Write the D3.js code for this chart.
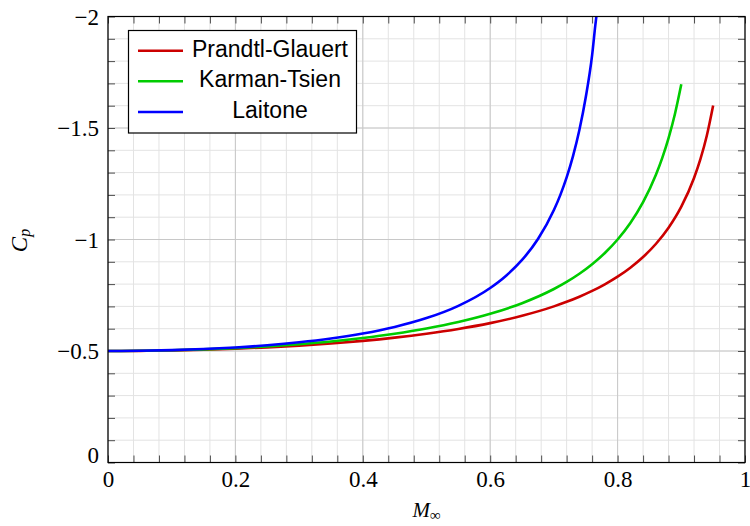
<!DOCTYPE html>
<html><head><meta charset="utf-8">
<script src="https://cdn.jsdelivr.net/npm/d3@7"></script>
<style>
html,body{margin:0;padding:0;background:#fff;}
svg{display:block;}
</style></head>
<body>
<svg id="chart" width="750" height="526"></svg>
<script>
// ---- data ----
const seriesNames = ["Prandtl-Glauert", "Karman-Tsien", "Laitone"];
const seriesColors = ["#cc0000", "#00cc00", "#0000ff"];

const pgMach = [0,0.05,0.1,0.15,0.2,0.25,0.3,0.35,0.4,0.45,0.5,0.55,0.6,0.65,0.7,0.72,0.74,0.76,0.78,0.8,0.82,0.84,0.86,0.88,0.9,0.92,0.93,0.94,0.95];
const pgCp   = [-0.5,-0.5006,-0.5025,-0.5057,-0.5103,-0.5164,-0.5241,-0.5338,-0.5455,-0.5599,-0.5774,-0.5987,-0.625,-0.658,-0.7001,-0.7205,-0.7434,-0.7693,-0.799,-0.8333,-0.8736,-0.9215,-0.9798,-1.0527,-1.1471,-1.2758,-1.3603,-1.4655,-1.6013];

const ktMach = [0,0.05,0.1,0.15,0.2,0.25,0.3,0.35,0.4,0.45,0.5,0.55,0.6,0.65,0.7,0.72,0.74,0.76,0.78,0.8,0.82,0.84,0.86,0.87,0.88,0.89,0.9];
const ktCp   = [-0.5,-0.5008,-0.5032,-0.5072,-0.513,-0.5207,-0.5306,-0.5429,-0.5583,-0.5772,-0.6006,-0.6298,-0.6667,-0.7144,-0.778,-0.8098,-0.8464,-0.8891,-0.9395,-1.0,-1.0742,-1.1676,-1.2891,-1.365,-1.4547,-1.5627,-1.6957];

const laMach = [0,0.05,0.1,0.15,0.2,0.25,0.3,0.35,0.4,0.45,0.5,0.55,0.6,0.625,0.65,0.675,0.7,0.71,0.72,0.73,0.74,0.75,0.76,0.765,0.77];
const laCp   = [-0.5,-0.5009,-0.5038,-0.5087,-0.5159,-0.5258,-0.5389,-0.556,-0.5784,-0.6079,-0.6475,-0.7025,-0.7826,-0.8377,-0.9083,-1.002,-1.1319,-1.1991,-1.2786,-1.3741,-1.4911,-1.6376,-1.8266,-1.96,-2.08];

const xMajorTicks = [0, 0.2, 0.4, 0.6, 0.8, 1];
const xTickLabels = ["0", "0.2", "0.4", "0.6", "0.8", "1"];
const yMajorTicks = [0, -0.5, -1, -1.5, -2];
const yTickLabels = ["0", "\u22120.5", "\u22121", "\u22121.5", "\u22122"];
const xMinorTicks = d3.range(0, 26).map(i => +(i * 0.04).toFixed(2));
const yMinorTicks = d3.range(0, 21).map(i => +(-i * 0.1).toFixed(1));

// ---- layout ----
const L = 108, R = 745, T = 16.5, B = 462.5;
const svg = d3.select("#chart");
const x = d3.scaleLinear().domain([0, 1]).range([L, R]);
const y = d3.scaleLinear().domain([0, -2]).range([B, T]);

const serif = "'Liberation Serif', 'Times New Roman', serif";
const sans = "'Liberation Sans', Arial, sans-serif";

// grid
const grid = svg.append("g");
grid.selectAll(".vmin").data(xMinorTicks).enter().append("line")
  .attr("x1", d => x(d)).attr("x2", d => x(d)).attr("y1", T).attr("y2", B)
  .attr("stroke", "#e3e3e3").attr("stroke-width", 1);
grid.selectAll(".hmin").data(yMinorTicks).enter().append("line")
  .attr("y1", d => y(d)).attr("y2", d => y(d)).attr("x1", L).attr("x2", R)
  .attr("stroke", "#e3e3e3").attr("stroke-width", 1);
grid.selectAll(".vmaj").data(xMajorTicks).enter().append("line")
  .attr("x1", d => x(d)).attr("x2", d => x(d)).attr("y1", T).attr("y2", B)
  .attr("stroke", "#c8c8c8").attr("stroke-width", 1);
grid.selectAll(".hmaj").data(yMajorTicks).enter().append("line")
  .attr("y1", d => y(d)).attr("y2", d => y(d)).attr("x1", L).attr("x2", R)
  .attr("stroke", "#c8c8c8").attr("stroke-width", 1);

// inward tick marks on all four sides
function tickAxis(axisFn, scale, vals, transform) {
  const g = svg.append("g").attr("transform", transform)
    .call(axisFn(scale).tickValues(vals).tickSize(-7).tickFormat(""));
  g.select(".domain").remove();
  g.selectAll(".tick line").attr("stroke", "#4d4d4d").attr("stroke-width", 1);
}
tickAxis(d3.axisBottom, x, xMinorTicks, `translate(0,${B})`);
tickAxis(d3.axisTop, x, xMinorTicks, `translate(0,${T})`);
tickAxis(d3.axisLeft, y, yMinorTicks, `translate(${L},0)`);
tickAxis(d3.axisRight, y, yMinorTicks, `translate(${R},0)`);

// tick labels
const xLab = svg.append("g").attr("transform", `translate(0,${B})`)
  .call(d3.axisBottom(x).tickValues(xMajorTicks).tickSize(0).tickPadding(8.5)
    .tickFormat((d, i) => xTickLabels[i]));
xLab.select(".domain").remove();
xLab.selectAll("text").attr("font-family", serif).attr("font-size", 23).attr("fill", "#000");

const yLab = svg.append("g").attr("transform", `translate(${L},0)`)
  .call(d3.axisLeft(y).tickValues(yMajorTicks).tickSize(0).tickPadding(9)
    .tickFormat((d, i) => yTickLabels[i]));
yLab.select(".domain").remove();
yLab.selectAll("text").attr("font-family", serif).attr("font-size", 23).attr("fill", "#000")
  .attr("dy", d => d === 0 ? "0.0em" : "0.33em");

// curves
svg.append("clipPath").attr("id", "plotclip")
  .append("rect").attr("x", L).attr("y", T).attr("width", R - L).attr("height", B - T);
const line = d3.line().x(d => x(d[0])).y(d => y(d[1])).curve(d3.curveMonotoneX);
const allSeries = [
  d3.zip(pgMach, pgCp),
  d3.zip(ktMach, ktCp),
  d3.zip(laMach, laCp)
];
const curves = svg.append("g").attr("clip-path", "url(#plotclip)");
allSeries.forEach((s, i) => {
  curves.append("path").datum(s).attr("d", line)
    .attr("fill", "none").attr("stroke", seriesColors[i])
    .attr("stroke-width", 2.6).attr("stroke-linejoin", "round");
});

// frame
svg.append("rect").attr("x", L).attr("y", T).attr("width", R - L).attr("height", B - T)
  .attr("fill", "none").attr("stroke", "#000").attr("stroke-width", 1.2);

// axis titles
const xt = svg.append("text").attr("x", (L + R) / 2).attr("y", 517)
  .attr("text-anchor", "middle").attr("font-family", serif).attr("font-size", 21);
xt.append("tspan").attr("font-style", "italic").text("M");
xt.append("tspan").attr("font-size", 15).attr("dy", 3).text("\u221E");

const yt = svg.append("text").attr("transform", `translate(27,${(T + B) / 2 + 1}) rotate(-90)`)
  .attr("text-anchor", "middle").attr("font-family", serif).attr("font-size", 23);
yt.append("tspan").attr("font-style", "italic").text("C");
yt.append("tspan").attr("font-style", "italic").attr("font-size", 16).attr("dy", 3).text("p");

// legend
const lg = svg.append("g");
lg.append("rect").attr("x", 128.5).attr("y", 30.5).attr("width", 228).attr("height", 102.5)
  .attr("fill", "#fff").attr("stroke", "#000").attr("stroke-width", 1.2);
const rowY = [50.7, 81.3, 112];
seriesNames.forEach((n, i) => {
  lg.append("line").attr("x1", 138).attr("x2", 183).attr("y1", rowY[i]).attr("y2", rowY[i])
    .attr("stroke", seriesColors[i]).attr("stroke-width", 2.6);
  lg.append("text").attr("x", 270).attr("y", rowY[i] + 6)
    .attr("text-anchor", "middle").attr("font-family", sans).attr("font-size", 23)
    .attr("fill", "#000").text(n);
});
</script>
</body></html>
